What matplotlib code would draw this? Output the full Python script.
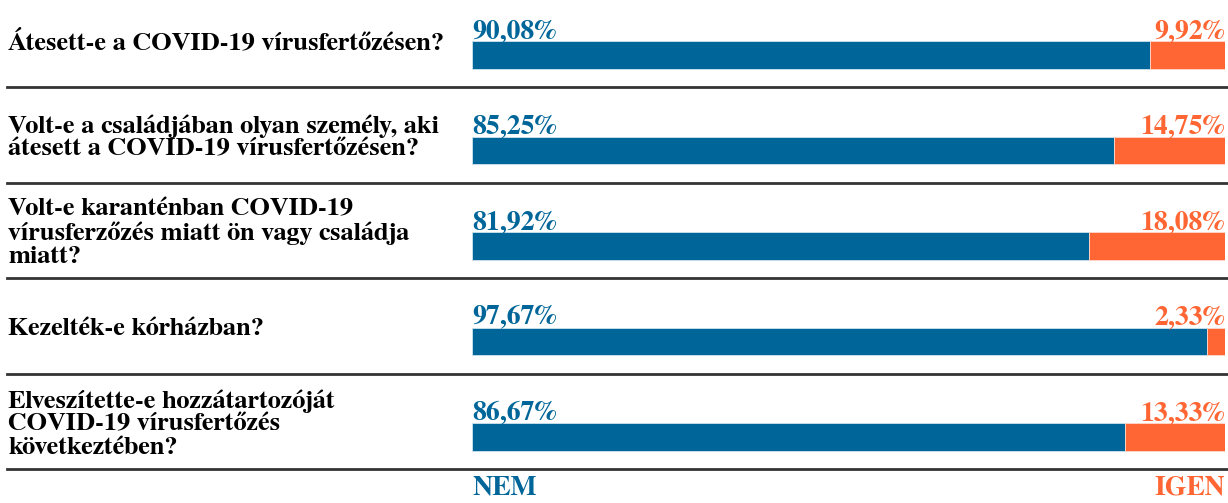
import matplotlib.pyplot as plt

questions = [
    "Átesett-e a COVID-19 vírusfertőzésen?",
    "Volt-e a családjában olyan személy, aki\nátesett a COVID-19 vírusfertőzésen?",
    "Volt-e karanténban COVID-19\nvírusferzőzés miatt ön vagy családja\nmiatt?",
    "Kezelték-e kórházban?",
    "Elveszítette-e hozzátartozóját\nCOVID-19 vírusfertőzés\nkövetkeztében?",
]
nem = [90.08, 85.25, 81.92, 97.67, 86.67]
igen = [9.92, 14.75, 18.08, 2.33, 13.33]

blue = '#006699'
orange = '#FF6633'
font = dict(family=['FreeSerif', 'Liberation Serif'], weight='bold', fontsize=19)
pfont = dict(family=['FreeSerif', 'Liberation Serif'], weight='bold', fontsize=20)

fig = plt.figure(figsize=(12.28, 5.03), dpi=100)
ax = fig.add_axes([472/1228, 0, 753/1228, 1])
ax.set_xlim(0, 100)
ax.set_ylim(4.691, -0.576)
ax.axis('off')

rows = range(len(questions))
ax.barh(rows, nem, height=0.293, color=blue, edgecolor='#cfe3ee', linewidth=0.6)
ax.barh(rows, igen, left=nem, height=0.293, color=orange, edgecolor='#ffd9cc', linewidth=0.6)

tr = ax.get_yaxis_transform()
for i in rows:
    ax.text(-0.616, i - 0.136, questions[i], transform=tr, ha='left', va='center',
            linespacing=1.05, color='black', **font)
    ax.text(0, i - 0.18, f"{nem[i]:.2f}%".replace('.', ','), ha='left', va='baseline',
            color=blue, **pfont)
    ax.text(100, i - 0.18, f"{igen[i]:.2f}%".replace('.', ','), ha='right', va='baseline',
            color=orange, **pfont)
    ax.axhline(i + 0.335, xmin=-0.6175, xmax=1.004, color='#333333', lw=2, clip_on=False)

# legend words under the bars
ax.text(0, 4.6, "NEM", ha='left', va='baseline', color=blue, **pfont)
ax.text(100, 4.6, "IGEN", ha='right', va='baseline', color=orange, **pfont)

fig.savefig('out.png', dpi=100)
